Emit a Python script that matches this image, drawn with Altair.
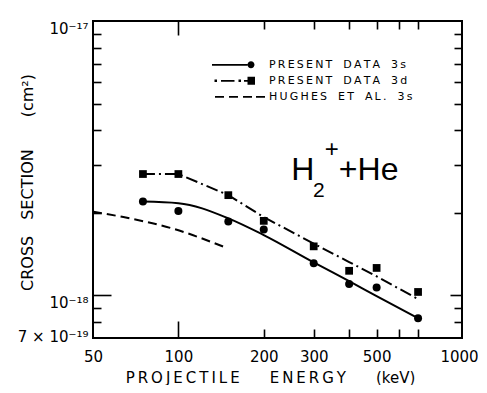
import altair as alt
import pandas as pd

# ---- data ----
energy = [75, 100, 150, 200, 300, 400, 500, 700]                 # keV
sigma_3s = [2.20e-18, 2.03e-18, 1.86e-18, 1.74e-18, 1.31e-18, 1.10e-18, 1.07e-18, 8.26e-19]
sigma_3d = [2.77e-18, 2.77e-18, 2.32e-18, 1.87e-18, 1.51e-18, 1.23e-18, 1.26e-18, 1.03e-18]

fit3s_energy = [75, 100, 150, 200, 300, 400, 500, 700]
fit3s_sigma = [2.20e-18, 2.17e-18, 1.91e-18, 1.66e-18, 1.32e-18, 1.127e-18, 0.995e-18, 8.26e-19]

fit3d_energy = [75, 100, 150, 200, 300, 400, 500, 700]
fit3d_sigma = [2.77e-18, 2.77e-18, 2.32e-18, 1.93e-18, 1.545e-18, 1.324e-18, 1.174e-18, 0.97e-18]

hughes_energy = [50, 64, 96, 148]
hughes_sigma = [2.02e-18, 1.93e-18, 1.75e-18, 1.49e-18]

series_names = ["PRESENT DATA 3s", "PRESENT DATA 3d", "HUGHES ET AL. 3s"]

x_label_values = [50, 100, 200, 300, 500, 1000]
x_major_ticks = [100]
x_minor_ticks = [200, 300, 400, 500, 600, 700]
y_label_values = [7e-19, 1e-18, 1e-17]
y_major_ticks = [1e-18]
y_minor_ticks = [8e-19, 9e-19, 2e-18, 3e-18, 4e-18, 5e-18, 6e-18, 7e-18, 8e-18, 9e-18]

W, H = 369, 317
FONT = "DejaVu Sans"


def spaced(s, gap="\u2009", word="\u2003"):
    return word.join(gap.join(w) for w in s.split(" "))


xs = alt.Scale(type="log", domain=[50, 1000], nice=False)
ys = alt.Scale(type="log", domain=[7e-19, 1e-17], nice=False)


def tick_axis(orient, offset, values, size):
    return alt.Axis(
        orient=orient, offset=offset, values=values, labels=False, domain=False,
        grid=False, ticks=True, tickColor="black", tickWidth=1.6, tickSize=size,
        title=None,
    )


ax_x_labels = alt.Axis(
    orient="bottom", values=x_label_values, format="d", ticks=False, tickSize=0,
    domain=False, grid=False, labelFont=FONT, labelFontSize=15, labelColor="black",
    labelPadding=23, labelBaseline="alphabetic", labelFlush=False, labelOverlap=False,
    labelOffset={"condition": {"test": "datum.value > 900", "value": -3}, "value": 0},
    title=spaced("PROJECTILE", word="") + "\u2003\u2003" + spaced("ENERGY", word="") + "\u2003\u2003(keV)",
    titleFont=FONT, titleFontSize=15, titleFontWeight="normal", titleColor="black",
    titleX=177, titleY=44, titleAlign="center", titleBaseline="alphabetic",
)
ax_y_labels = alt.Axis(
    orient="left", values=y_label_values, ticks=False, tickSize=0, domain=False, grid=False,
    labelExpr="datum.value < 8e-19 ? '7 \u00d7 10\u207b\u00b9\u2079' : (datum.value < 5e-18 ? '10\u207b\u00b9\u2078' : '10\u207b\u00b9\u2077')",
    labelFont=FONT, labelFontSize=15, labelColor="black", labelPadding=5,
    labelBaseline="alphabetic", labelFlush=False, labelOverlap=False,
    labelOffset={"condition": {"test": "datum.value < 8e-19", "value": 3}, "value": 12},
    title="CROSS\u2003SECTION\u2003\u2003(cm\u00b2)",
    titleFont=FONT, titleFontSize=16, titleFontWeight="normal", titleColor="black",
    titleAngle=270, titleX=-61, titleY=161, titleAlign="center", titleBaseline="alphabetic",
)

# inward ticks: an axis of the opposite orient, moved onto the frame edge
ax_xb_major = tick_axis("top", -H, x_major_ticks, 17)
ax_xb_minor = tick_axis("top", -H, x_minor_ticks, 9)
ax_xt_major = tick_axis("bottom", -H, x_major_ticks, 14)
ax_xt_minor = tick_axis("bottom", -H, x_minor_ticks, 8)
ax_yl_major = tick_axis("right", -W, y_major_ticks, 18)
ax_yl_minor = tick_axis("right", -W, y_minor_ticks, 8)
ax_yr_major = tick_axis("left", -W, y_major_ticks, 12)
ax_yr_minor = tick_axis("left", -W, y_minor_ticks, 8)

pts = pd.DataFrame({"E": energy, "s3s": sigma_3s, "s3d": sigma_3d})
f3s = pd.DataFrame({"E": fit3s_energy, "s": fit3s_sigma})
f3d = pd.DataFrame({"E": fit3d_energy, "s": fit3d_sigma})
hug = pd.DataFrame({"E": hughes_energy, "s": hughes_sigma})

circles = alt.Chart(pts).mark_point(shape="circle", filled=True, size=64, color="black", opacity=1).encode(
    x=alt.X("E:Q", scale=xs, axis=ax_x_labels),
    y=alt.Y("s3s:Q", scale=ys, axis=ax_y_labels),
)
squares = alt.Chart(pts).mark_point(shape="square", filled=True, size=60, color="black", opacity=1).encode(
    x=alt.X("E:Q", scale=xs, axis=ax_xb_major),
    y=alt.Y("s3d:Q", scale=ys, axis=ax_yl_major),
)
line3s = alt.Chart(f3s).mark_line(color="black", strokeWidth=2, interpolate="monotone").encode(
    x=alt.X("E:Q", scale=xs, axis=ax_xb_minor),
    y=alt.Y("s:Q", scale=ys, axis=ax_yl_minor),
)
line3d = alt.Chart(f3d).mark_line(color="black", strokeWidth=2, strokeDash=[12, 4, 2, 4]).encode(
    x=alt.X("E:Q", scale=xs, axis=ax_xt_major),
    y=alt.Y("s:Q", scale=ys, axis=ax_yr_major),
)
lineh = alt.Chart(hug).mark_line(color="black", strokeWidth=2, strokeDash=[9, 5], interpolate="monotone").encode(
    x=alt.X("E:Q", scale=xs, axis=ax_xt_minor),
    y=alt.Y("s:Q", scale=ys, axis=ax_yr_minor),
)

# legend: line-with-marker symbols as custom paths
sym_3s = "M-1,-0.035H0.42V0.035H-1Z M0.42,0A0.14,0.14 0 1,1 0.70,0A0.14,0.14 0 1,1 0.42,0Z"
sym_3d = ("M-0.9,-0.05H-0.8V0.05H-0.9Z M-0.64,-0.035H-0.1V0.035H-0.64Z "
          "M0.06,-0.05H0.16V0.05H0.06Z M0.28,-0.035H0.42V0.035H0.28Z M0.42,-0.16H0.72V0.16H0.42Z")
sym_h = ("M-0.88,-0.035H-0.52V0.035H-0.88Z M-0.32,-0.035H0.04V0.035H-0.32Z "
         "M0.24,-0.035H0.6V0.035H0.24Z M0.76,-0.035H1.12V0.035H0.76Z")
legend_labels = [spaced(n) for n in series_names]
leg = pd.DataFrame({"series": legend_labels})
legend_layer = alt.Chart(leg).mark_point(filled=True, color="black", opacity=0, size=2500).encode(
    shape=alt.Shape(
        "series:N",
        scale=alt.Scale(domain=legend_labels, range=[sym_3s, sym_3d, sym_h]),
        legend=alt.Legend(
            orient="none", legendX=119, legendY=37, title=None, direction="vertical",
            clipHeight=13.5, rowPadding=2, symbolSize=2500, symbolStrokeWidth=0,
            symbolOpacity=1, symbolFillColor="black", labelFont=FONT, labelFontSize=11,
            labelColor="black", labelOffset=7, labelLimit=400, padding=0,
        ),
    )
)


# H2+ + He annotation, placed in data coordinates
def label(text, e, s, size, align="left"):
    df = pd.DataFrame({"t": [text], "E": [e], "s": [s]})
    return alt.Chart(df).mark_text(
        font="Liberation Sans", fontSize=size, color="black", align=align, baseline="alphabetic"
    ).encode(
        x=alt.X("E:Q", scale=xs, axis=None),
        y=alt.Y("s:Q", scale=ys, axis=None),
        text="t:N",
    )


ann = [
    label("H", 250, 2.63e-18, 32),
    label("2", 298, 2.29e-18, 21),
    label("+", 347, 3.20e-18, 24, align="center"),
    label("+He", 368, 2.63e-18, 32),
]

chart = alt.layer(circles, squares, line3s, line3d, lineh, legend_layer, *ann).resolve_axis(
    x="independent", y="independent"
).properties(
    width=W, height=H,
    autosize=alt.AutoSizeParams(type="none"),
    padding={"left": 85, "top": 13, "right": 16, "bottom": 47},
    background="white",
).configure_view(stroke="black", strokeWidth=2)

chart.save("out.html", embed_options={"renderer": "svg", "actions": False})
